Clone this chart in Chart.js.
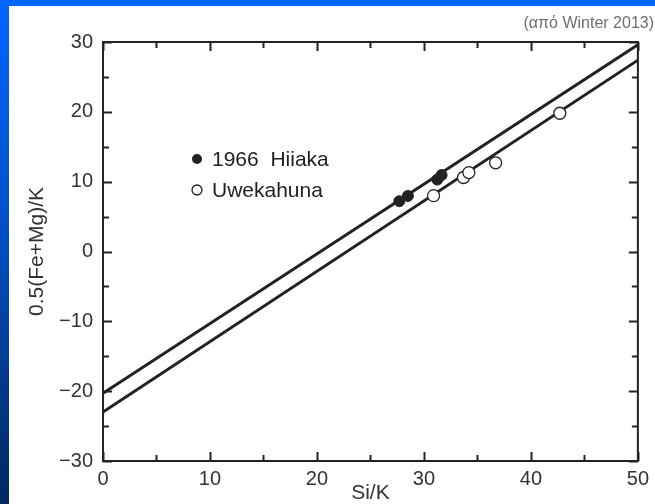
<!DOCTYPE html>
<html>
<head>
<meta charset="utf-8">
<script src="https://cdn.jsdelivr.net/npm/chart.js@4.4.1/dist/chart.umd.min.js"></script>
<style>
  html, body { margin: 0; padding: 0; }
  body {
    width: 655px; height: 504px; overflow: hidden; position: relative;
    background: linear-gradient(to bottom, #0066ff 0%, #0050c8 45%, #00285e 100%);
  }
  #box {
    position: absolute; left: 9px; top: 6px; width: 646px; height: 498px;
    background: #ffffff;
  }
  #topbar { position: absolute; left: 9px; top: 0; width: 646px; height: 6px; background: #0066ff; }
</style>
</head>
<body>
<div id="topbar"></div>
<div id="box"><canvas id="chart" width="646" height="498"></canvas></div>
<script>
// δεδομένα (Si/K vs 0.5(Fe+Mg)/K)
const lineX = [0, 50];
const hiiakaLineY = [-20.3, 29.6];
const uwekLineY = [-23.0, 27.4];

const hiiakaX = [27.7, 28.5, 31.25, 31.65];
const hiiakaY = [7.2, 7.95, 10.3, 10.95];

const uwekX = [30.9, 33.7, 34.2, 36.7, 42.7];
const uwekY = [8.0, 10.6, 11.3, 12.7, 19.8];

const xTicks = [0, 10, 20, 30, 40, 50];
const yTicks = [-30, -20, -10, 0, 10, 20, 30];
const legendNames = ['1966  Hiiaka', 'Uwekahuna'];
const sourceNote = '(από Winter 2013)';

const FONT = 'Liberation Sans, Arial, Helvetica, sans-serif';
const INK = '#222222';

function toPoints(xs, ys) {
  return xs.map((x, i) => ({ x: x, y: ys[i] }));
}

// άξονες με εσωτερικές γραμμούλες, πλαίσιο, υπόμνημα
const framePlugin = {
  id: 'frame',
  afterDraw(chart) {
    const ctx = chart.ctx;
    const a = chart.chartArea;
    const xs = chart.scales.x;
    const ys = chart.scales.y;
    ctx.save();
    ctx.strokeStyle = INK;
    ctx.lineWidth = 2;
    ctx.strokeRect(a.left, a.top, a.right - a.left, a.bottom - a.top);

    ctx.beginPath();
    for (let v = 0; v <= 50; v += 5) {
      const px = Math.round(xs.getPixelForValue(v)) + 0.5;
      const len = v % 10 === 0 ? 9 : 6;
      ctx.moveTo(px, a.bottom); ctx.lineTo(px, a.bottom - len);
      ctx.moveTo(px, a.top); ctx.lineTo(px, a.top + len);
    }
    for (let v = -30; v <= 30; v += 5) {
      const py = Math.round(ys.getPixelForValue(v)) + 0.5;
      const len = v % 10 === 0 ? 9 : 6;
      ctx.moveTo(a.left, py); ctx.lineTo(a.left + len, py);
      ctx.moveTo(a.right, py); ctx.lineTo(a.right - len, py);
    }
    ctx.stroke();

    // υπόμνημα
    const lx = a.left + 94;
    const ly = a.top + 117;
    ctx.fillStyle = INK;
    ctx.beginPath();
    ctx.arc(lx, ly, 5, 0, Math.PI * 2);
    ctx.fill();
    ctx.lineWidth = 1.3;
    ctx.fillStyle = '#ffffff';
    ctx.beginPath();
    ctx.arc(lx, ly + 31, 5, 0, Math.PI * 2);
    ctx.fill();
    ctx.stroke();

    ctx.fillStyle = INK;
    ctx.font = '21px ' + FONT;
    ctx.textBaseline = 'middle';
    ctx.textAlign = 'left';
    ctx.fillText(legendNames[0], lx + 15, ly + 1);
    ctx.fillText(legendNames[1], lx + 15, ly + 32);

    ctx.fillStyle = '#6e6e6e';
    ctx.font = '16px ' + FONT;
    ctx.textAlign = 'right';
    ctx.textBaseline = 'alphabetic';
    ctx.fillText(sourceNote, chart.width - 1, 22);
    ctx.restore();
  }
};

new Chart(document.getElementById('chart'), {
  type: 'scatter',
  data: {
    datasets: [
      {
        type: 'line',
        data: toPoints(lineX, hiiakaLineY),
        borderColor: INK,
        borderWidth: 3,
        pointRadius: 0,
        fill: false,
        order: 3
      },
      {
        type: 'line',
        data: toPoints(lineX, uwekLineY),
        borderColor: INK,
        borderWidth: 3,
        pointRadius: 0,
        fill: false,
        order: 3
      },
      {
        label: legendNames[0],
        data: toPoints(hiiakaX, hiiakaY),
        pointRadius: 5.5,
        pointBackgroundColor: INK,
        pointBorderColor: INK,
        pointBorderWidth: 1,
        order: 1
      },
      {
        label: legendNames[1],
        data: toPoints(uwekX, uwekY),
        pointRadius: 6,
        pointBackgroundColor: '#ffffff',
        pointBorderColor: INK,
        pointBorderWidth: 1.3,
        order: 1
      }
    ]
  },
  options: {
    responsive: false,
    animation: false,
    layout: { padding: { top: 36, right: 16, left: 0, bottom: 0 } },
    plugins: {
      legend: { display: false },
      tooltip: { enabled: false }
    },
    scales: {
      x: {
        type: 'linear',
        min: 0,
        max: 50,
        afterBuildTicks: (scale) => { scale.ticks = xTicks.map(v => ({ value: v })); },
        afterFit: (scale) => { scale.height = 43; },
        grid: { display: false, drawTicks: false },
        border: { display: false },
        ticks: {
          color: '#333333',
          padding: 6,
          font: { family: FONT, size: 20 },
          maxRotation: 0
        },
        title: {
          display: true,
          text: 'Si/K',
          color: '#333333',
          font: { family: FONT, size: 21 },
          padding: { top: 0, bottom: -2 }
        }
      },
      y: {
        type: 'linear',
        min: -30,
        max: 30,
        afterBuildTicks: (scale) => { scale.ticks = yTicks.map(v => ({ value: v })); },
        afterFit: (scale) => { scale.width = 94; },
        grid: { display: false, drawTicks: false },
        border: { display: false },
        ticks: {
          color: '#333333',
          padding: 10,
          font: { family: FONT, size: 20 },
          callback: (v) => (v < 0 ? '\u2212' + Math.abs(v) : String(v))
        },
        title: {
          display: true,
          text: '0.5(Fe+Mg)/K',
          color: '#333333',
          font: { family: FONT, size: 21 },
          padding: { top: 16, bottom: 0 }
        }
      }
    }
  },
  plugins: [framePlugin]
});
</script>
</body>
</html>
